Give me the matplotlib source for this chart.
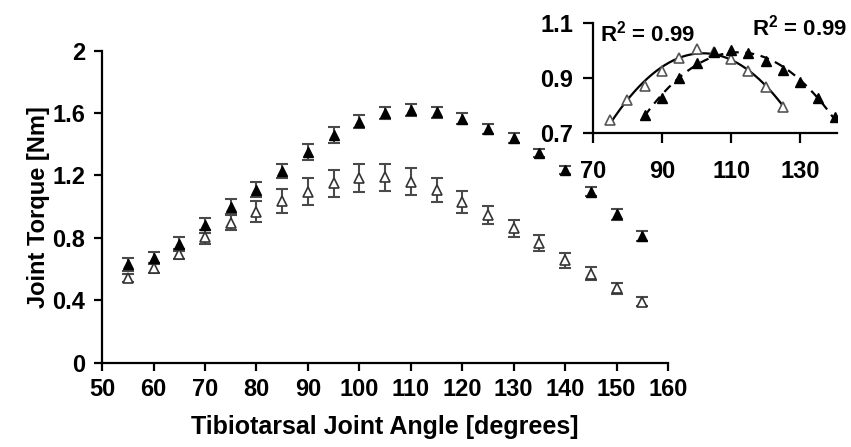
import matplotlib
matplotlib.use("Agg")
import matplotlib.pyplot as plt
import numpy as np

plt.rcParams['font.family'] = ['Liberation Sans', 'DejaVu Sans']
plt.rcParams['font.weight'] = 'bold'
plt.rcParams['mathtext.fontset'] = 'custom'
plt.rcParams['mathtext.rm'] = 'Liberation Sans:bold'
plt.rcParams['mathtext.bf'] = 'Liberation Sans:bold'
plt.rcParams['mathtext.it'] = 'Liberation Sans:bold'

# ---- data ----
angles = [55, 60, 65, 70, 75, 80, 85, 90, 95, 100, 105, 110, 115, 120, 125, 130, 135, 140, 145, 150, 155]
filled_torque = [0.63, 0.67, 0.76, 0.88, 1.00, 1.11, 1.23, 1.35, 1.46, 1.545, 1.60, 1.62, 1.605, 1.565,
                 1.50, 1.44, 1.345, 1.235, 1.096, 0.95, 0.81]
filled_err = [0.04, 0.04, 0.045, 0.05, 0.048, 0.048, 0.045, 0.05, 0.05, 0.043, 0.04, 0.04, 0.037, 0.034,
              0.032, 0.03, 0.027, 0.027, 0.03, 0.033, 0.033]
open_torque = [0.545, 0.607, 0.697, 0.808, 0.897, 0.968, 1.038, 1.096, 1.15, 1.182, 1.188, 1.16, 1.107,
               1.032, 0.947, 0.861, 0.765, 0.658, 0.571, 0.477, 0.391]
open_err = [0.025, 0.03, 0.03, 0.045, 0.048, 0.066, 0.078, 0.085, 0.088, 0.091, 0.088, 0.085, 0.076,
            0.07, 0.059, 0.053, 0.051, 0.048, 0.04, 0.035, 0.03]

inset_open_x = [75, 80, 85, 90, 95, 100, 105, 110, 115, 120, 125]
inset_open_y = [0.746, 0.819, 0.870, 0.925, 0.971, 1.003, 0.995, 0.968, 0.925, 0.867, 0.795]
inset_filled_x = [85, 90, 95, 100, 105, 110, 115, 120, 125, 130, 135, 140]
inset_filled_y = [0.764, 0.825, 0.898, 0.952, 0.995, 1.0, 0.989, 0.962, 0.928, 0.885, 0.825, 0.758]

x_ticks = [50, 60, 70, 80, 90, 100, 110, 120, 130, 140, 150, 160]
y_ticks = [0, 0.4, 0.8, 1.2, 1.6, 2]
y_ticklabels = ['0', '0.4', '0.8', '1.2', '1.6', '2']
inset_x_ticks = [70, 90, 110, 130]
inset_y_ticks = [0.7, 0.9, 1.1]
r2_open = 'R$^{2}$ = 0.99'
r2_filled = 'R$^{2}$ = 0.99'

# ---- figure ----
fig = plt.figure(figsize=(8.51, 4.47), dpi=100)
ax = fig.add_axes([0.12, 0.1886, 0.665, 0.698])

errc = '#4a4a4a'
ax.errorbar(angles, open_torque, yerr=open_err, fmt='none', ecolor=errc, elinewidth=1.5,
            capsize=4, capthick=1.5, zorder=2)
ax.errorbar(angles, filled_torque, yerr=filled_err, fmt='none', ecolor=errc, elinewidth=1.5,
            capsize=4, capthick=1.5, zorder=2)
ax.plot(angles, open_torque, linestyle='none', marker='^', markersize=7, markerfacecolor='white',
        markeredgecolor='#333333', markeredgewidth=1.2, zorder=3)
ax.plot(angles, filled_torque, linestyle='none', marker='^', markersize=7, markerfacecolor='black',
        markeredgecolor='black', zorder=4)

ax.set_xlim(50, 160)
ax.set_ylim(0, 2)
ax.set_xticks(x_ticks)
ax.set_yticks(y_ticks)
ax.set_yticklabels(y_ticklabels)
for s in ['top', 'right']:
    ax.spines[s].set_visible(False)
for s in ['left', 'bottom']:
    ax.spines[s].set_linewidth(1.6)
ax.tick_params(axis='both', direction='out', width=1.6, labelsize=17, length=6)
ax.tick_params(axis='x', pad=5)
ax.tick_params(axis='y', pad=6)
for lab in ax.get_xticklabels() + ax.get_yticklabels():
    lab.set_fontweight('bold')
ax.set_xlabel('Tibiotarsal Joint Angle [degrees]', fontsize=18, fontweight='bold', labelpad=10)
ax.set_ylabel('Joint Torque [Nm]', fontsize=17, fontweight='bold', labelpad=2)

# ---- inset ----
ins = fig.add_axes([0.6965, 0.7031, 0.2867, 0.2461])
ins.patch.set_alpha(0)
fo = np.polyfit(inset_open_x, inset_open_y, 2)
xo = np.linspace(min(inset_open_x), max(inset_open_x), 200)
ins.plot(xo, np.polyval(fo, xo), color='black', linewidth=1.6, zorder=2)
ff = np.polyfit(inset_filled_x, inset_filled_y, 2)
xf = np.linspace(min(inset_filled_x), max(inset_filled_x), 200)
ins.plot(xf, np.polyval(ff, xf), color='black', linewidth=1.6, linestyle=(0, (4, 3)), zorder=2)
ins.plot(inset_open_x, inset_open_y, linestyle='none', marker='^', markersize=7,
         markerfacecolor='white', markeredgecolor='#555555', markeredgewidth=1.2, zorder=3)
ins.plot(inset_filled_x, inset_filled_y, linestyle='none', marker='^', markersize=7,
         markerfacecolor='black', markeredgecolor='black', zorder=4)
ins.set_xlim(70, 140.5)
ins.set_ylim(0.7, 1.1)
ins.set_xticks(inset_x_ticks)
ins.set_yticks(inset_y_ticks)
ins.set_yticklabels(['0.7', '0.9', '1.1'])
for s in ['top', 'right']:
    ins.spines[s].set_visible(False)
for s in ['left', 'bottom']:
    ins.spines[s].set_linewidth(1.6)
ins.tick_params(axis='both', direction='out', width=1.6, labelsize=17, length=7)
ins.tick_params(axis='x', pad=13)
ins.tick_params(axis='y', pad=7)
for lab in ins.get_xticklabels() + ins.get_yticklabels():
    lab.set_fontweight('bold')

fig.text(0.705, 0.925, r2_open, fontsize=16, fontweight='bold', ha='left', va='center')
fig.text(0.996, 0.938, r2_filled, fontsize=16, fontweight='bold', ha='right', va='center')

fig.savefig('out.png', dpi=100)
